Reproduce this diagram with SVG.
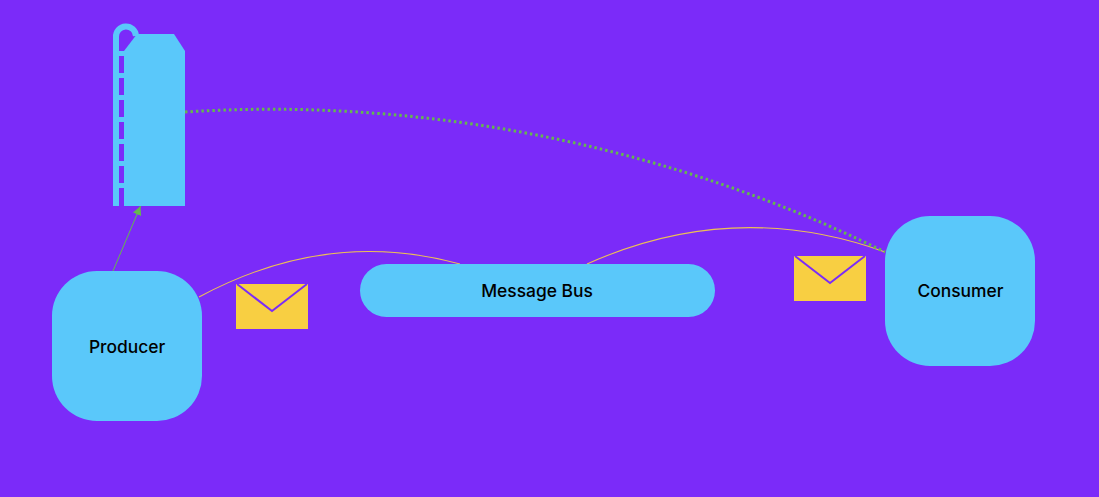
<svg xmlns="http://www.w3.org/2000/svg" width="1099" height="497" viewBox="0 0 1099 497">
<style>
.node{fill:#5ac8fa}
.label{font-family:Inter,"Liberation Sans",sans-serif;font-size:17.400px;font-weight:550;fill:#000;text-anchor:middle}
.flow{fill:none;stroke:#f8d042;stroke-width:1.100;opacity:.9}
.env{fill:#f8cf42}
.flap{fill:none;stroke:#7b2bf9;stroke-width:2}
</style>
<defs>
<marker id="arrow" markerWidth="11" markerHeight="11" refX="9" refY="5" orient="auto" markerUnits="userSpaceOnUse"><path d="M0 0.500L9 5L0 9.500Z" fill="#65b84e"/></marker>
</defs>
<rect width="1099" height="497" fill="#7b2bf9"/>
<g id="connectors">
<path class="flow" d="M199 297C288 249 376 241 460 264"/>
<path class="flow" d="M587 264C685 220 785 216 885 252"/>
<path d="M185 112C400 98 650 136 885 252" fill="none" stroke="#65b84e" stroke-width="3" stroke-dasharray="2.500 3"/>
<path d="M113 271L140.500 206" fill="none" stroke="#65b84e" stroke-width="1" marker-end="url(#arrow)"/>
</g>
<g id="store">
<path class="node" d="M124 51L137 34H174L185 51V206H124Z"/>
<path d="M116 206V37A10 10 0 0 1 136 36" fill="none" stroke="#5ac8fa" stroke-width="6"/>
<path d="M116 53.500H124M116 75.500H124M116 97.500H124M116 119.500H124M116 141.500H124M116 163.500H124M116 185.500H124" stroke="#5ac8fa" stroke-width="5" fill="none"/>
</g>
<g id="producer">
<rect class="node" x="52" y="271" width="150" height="150" rx="45"/>
<text class="label" x="127" y="353">Producer</text>
</g>
<g id="bus">
<rect class="node" x="360" y="264" width="355" height="53" rx="26.500"/>
<text class="label" x="537" y="297">Message Bus</text>
</g>
<g id="consumer">
<rect class="node" x="885" y="216" width="150" height="150" rx="45"/>
<text class="label" x="960.500" y="297">Consumer</text>
</g>
<g id="message1">
<rect class="env" x="236" y="284" width="72" height="45"/>
<path class="flap" d="M237 284L272 311L307 284"/>
</g>
<g id="message2">
<rect class="env" x="794" y="256" width="72" height="45"/>
<path class="flap" d="M795 256L830 283L865 256"/>
</g>
</svg>
